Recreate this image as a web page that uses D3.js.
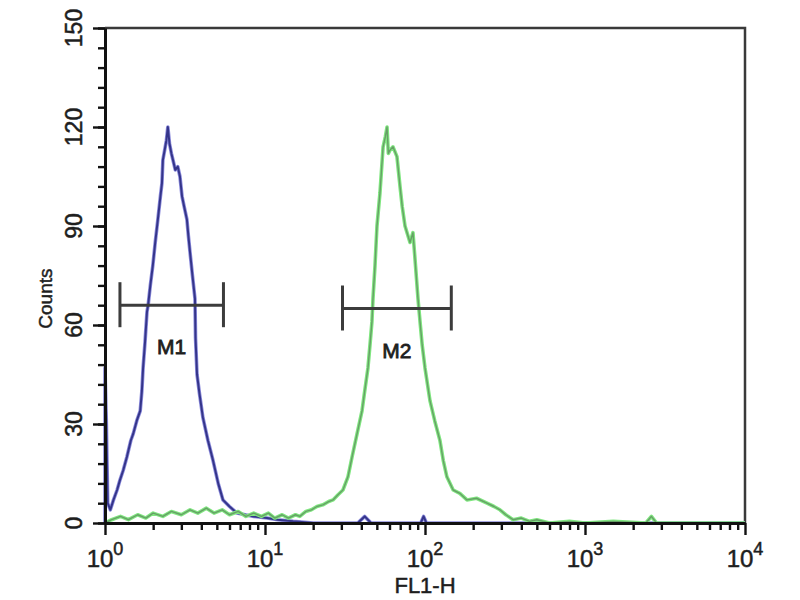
<!DOCTYPE html>
<html>
<head>
<meta charset="utf-8">
<script src="https://cdn.jsdelivr.net/npm/d3@7"></script>
<style>
  body { margin: 0; background: #fff; }
  svg { display: block; }
  text { font-family: "Liberation Sans", Arial, sans-serif; fill: #1e1e1e; stroke: #1e1e1e; stroke-width: 0.5px; }
</style>
</head>
<body>
<div id="chart"></div>
<script>
// histogram data: [FL1-H, count]
const controlCounts = [
  [1.00, 0], [1.00, 47], [1.02, 30], [1.04, 6], [1.08, 4], [1.13, 7], [1.19, 10],
  [1.24, 13], [1.30, 16], [1.37, 20], [1.45, 25], [1.50, 27], [1.58, 31],
  [1.66, 34], [1.70, 40], [1.73, 47], [1.78, 55], [1.83, 64], [1.86, 66],
  [1.92, 72], [1.99, 78], [2.06, 85], [2.14, 92], [2.22, 99], [2.27, 103],
  [2.30, 110], [2.36, 113], [2.42, 116], [2.47, 120], [2.53, 115], [2.60, 112],
  [2.66, 110], [2.75, 107], [2.85, 108], [2.94, 105], [3.03, 99], [3.12, 96],
  [3.25, 92], [3.32, 87], [3.40, 82], [3.52, 75], [3.65, 68], [3.68, 56],
  [3.76, 45], [3.90, 39], [4.09, 32], [4.40, 25], [4.73, 19], [5.10, 12],
  [5.46, 7], [6.00, 5], [6.68, 3], [7.50, 2.5], [8.50, 2], [10.3, 1.5],
  [12, 1], [15, 0.5], [20, 0], [38, 0], [42, 2], [46, 0], [94, 0], [98, 2],
  [102, 0], [10000, 0]
];

const sampleCounts = [
  [1.00, 0], [1.10, 1], [1.25, 2], [1.40, 1], [1.60, 2.5], [1.80, 1.5],
  [2.00, 3], [2.30, 2], [2.60, 3.5], [3.00, 2.5], [3.40, 4], [3.80, 3],
  [4.30, 4.5], [4.80, 3], [5.40, 4], [6.00, 2.5], [6.80, 3.5], [7.60, 2],
  [8.50, 3], [9.50, 2], [10.5, 3], [11.5, 1.5], [12.8, 2.5], [14, 1.5],
  [15.5, 2.5], [16.5, 2], [18, 3.5], [19.5, 4], [21.1, 5], [23, 5.5],
  [25, 6.5], [26.6, 7], [28.5, 8.5], [30.7, 10], [33, 14], [35, 20],
  [37.6, 27], [40.4, 34], [42, 40], [44, 47], [45.5, 55], [46.6, 61],
  [47.3, 68], [48.7, 78], [50.1, 90], [52.3, 100], [54.7, 114], [56.5, 117],
  [57.9, 120], [59, 112], [60.4, 113], [63.1, 114], [66.8, 111], [69.8, 102],
  [72, 96], [75, 90], [80.6, 85], [84.1, 88], [86.6, 80], [90.4, 68],
  [93.1, 61], [96, 54], [100, 47], [107.5, 37], [115, 31], [124, 25],
  [130, 19], [137, 14], [150, 10], [165, 9], [183, 7], [210, 7.5], [244, 6],
  [270, 5], [294, 4], [320, 2.5], [355, 1], [400, 1.5], [450, 0.5], [500, 1],
  [600, 0], [800, 0.5], [1000, 0], [1500, 0.5], [2400, 0], [2600, 2],
  [2800, 0], [5000, 0], [10000, 0]
];

// marker gates
const markers = [
  { name: 'M1', lo: 1.24, hi: 5.5, level: 66 },
  { name: 'M2', lo: 30.5, hi: 146, level: 65 }
];

const yTicks = [0, 30, 60, 90, 120, 150];
const xDecades = [1, 10, 100, 1000, 10000];
const xTickLabels = ['0', '1', '2', '3', '4'];

const width = 800, height = 600;
const margin = { top: 28, right: 55, bottom: 77, left: 105 };

const svg = d3.select('#chart').append('svg')
  .attr('width', width).attr('height', height);

const x = d3.scaleLog().domain([1, 10000]).range([margin.left, width - margin.right]);
const y = d3.scaleLinear().domain([0, 150]).range([height - margin.bottom, margin.top]);

// frame (top + right)
svg.append('path')
  .attr('d', `M${x(1)},${y(150)}H${x(10000)}V${y(0)}`)
  .attr('fill', 'none').attr('stroke', '#3a3a3a').attr('stroke-width', 2.5);

// histograms
const line = d3.line().x(d => x(d[0])).y(d => y(d[1]));

svg.append('path').datum(controlCounts)
  .attr('d', line).attr('fill', 'none')
  .attr('stroke', '#8c8cdc').attr('stroke-width', 3.6).attr('stroke-linejoin', 'round');
svg.append('path').datum(controlCounts)
  .attr('d', line).attr('fill', 'none')
  .attr('stroke', '#35358a').attr('stroke-width', 2).attr('stroke-linejoin', 'round');

svg.append('path').datum(sampleCounts)
  .attr('d', line).attr('fill', 'none')
  .attr('stroke', '#80e680').attr('stroke-width', 3.6).attr('stroke-linejoin', 'round');
svg.append('path').datum(sampleCounts)
  .attr('d', line).attr('fill', 'none')
  .attr('stroke', '#66a066').attr('stroke-width', 1.4).attr('stroke-linejoin', 'round');

// x axis: minor + major ticks
const minorX = [];
xDecades.slice(0, -1).forEach(d => { for (let k = 2; k < 10; k++) minorX.push(d * k); });

svg.append('g')
  .attr('transform', `translate(0,${y(0)})`)
  .call(d3.axisBottom(x).tickValues(minorX).tickSize(7).tickFormat(''))
  .call(g => g.select('.domain').remove());

svg.append('g')
  .attr('transform', `translate(0,${y(0)})`)
  .call(d3.axisBottom(x).tickValues(xDecades).tickSize(12).tickSizeOuter(0).tickFormat(''));

// y axis: minor + major ticks
svg.append('g')
  .attr('transform', `translate(${x(1)},0)`)
  .call(d3.axisLeft(y).tickValues(d3.range(0, 151, 6)).tickSize(7).tickFormat(''))
  .call(g => g.select('.domain').remove());

svg.append('g')
  .attr('transform', `translate(${x(1)},0)`)
  .call(d3.axisLeft(y).tickValues(yTicks).tickSize(12).tickSizeOuter(0).tickFormat(''));

svg.selectAll('.tick line').attr('stroke', '#111').attr('stroke-width', 2.4);
svg.selectAll('.domain').attr('stroke', '#111').attr('stroke-width', 3);

// tick labels
svg.append('g').selectAll('text')
  .data(yTicks).join('text')
  .attr('transform', d => `translate(82,${y(d)}) rotate(-90)`)
  .attr('text-anchor', 'middle')
  .style('font-size', '23px')
  .text(d => d);

const xl = svg.append('g').selectAll('text')
  .data(xDecades).join('text')
  .attr('x', d => x(d))
  .attr('y', 567)
  .attr('text-anchor', 'middle')
  .style('font-size', '24px');
xl.append('tspan').text('10');
xl.append('tspan').text((d, i) => xTickLabels[i])
  .attr('dy', -12).style('font-size', '18px');

// axis titles
svg.append('text')
  .attr('x', x(100)).attr('y', 593)
  .attr('text-anchor', 'middle')
  .style('font-size', '22px')
  .text('FL1-H');

svg.append('text')
  .attr('transform', `translate(52,${y(68)}) rotate(-90)`)
  .attr('text-anchor', 'middle')
  .style('font-size', '19px')
  .text('Counts');

// markers
const mk = svg.append('g').selectAll('g')
  .data(markers).join('g')
  .attr('stroke', '#3c3c3c').attr('stroke-width', 3);

mk.append('line')
  .attr('x1', d => x(d.lo)).attr('x2', d => x(d.hi))
  .attr('y1', d => y(d.level)).attr('y2', d => y(d.level));
mk.append('line')
  .attr('x1', d => x(d.lo)).attr('x2', d => x(d.lo))
  .attr('y1', d => y(d.level) - 23).attr('y2', d => y(d.level) + 22);
mk.append('line')
  .attr('x1', d => x(d.hi)).attr('x2', d => x(d.hi))
  .attr('y1', d => y(d.level) - 23).attr('y2', d => y(d.level) + 22);
mk.append('text')
  .attr('x', d => (x(d.lo) + x(d.hi)) / 2)
  .attr('y', d => y(d.level) + 49)
  .attr('text-anchor', 'middle')
  .style('stroke-width', '0.8px')
  .style('font-size', '21px')
  .text(d => d.name);
</script>
</body>
</html>
